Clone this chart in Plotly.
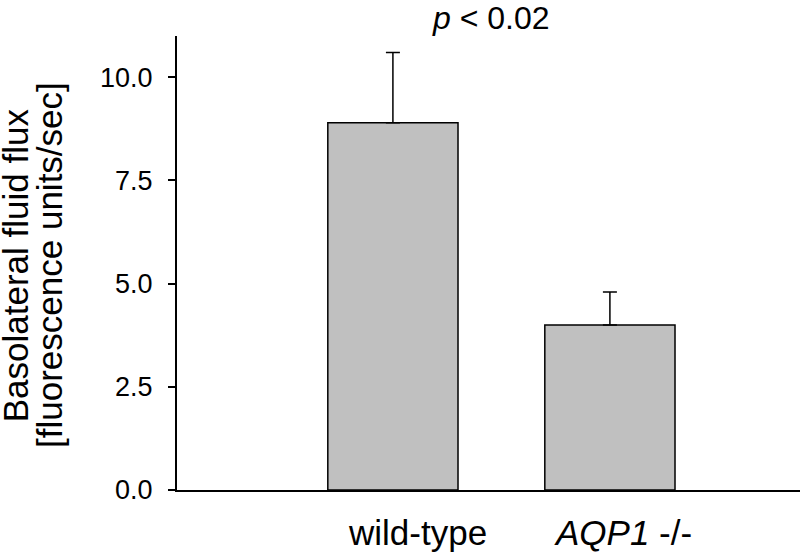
import plotly.graph_objects as go

categories = ["wild-type", "AQP1 -/-"]
category_labels = ["wild-type", "<i>AQP1</i> -/-"]
flux_means = [8.9, 4.0]
flux_err_up = [1.7, 0.8]
y_ticks = [0, 2.5, 5.0, 7.5, 10.0]
y_tick_labels = ["0.0", "2.5", "5.0", "7.5", "10.0"]
y_title_lines = ["Basolateral fluid flux", "[fluorescence units/sec]"]
p_label = "<i>p</i> < 0.02"

FONT = "Arial, Liberation Sans, Helvetica, sans-serif"

fig = go.Figure()
fig.add_trace(go.Bar(
    x=categories,
    y=flux_means,
    width=0.6,
    marker=dict(color="#c0c0c0", line=dict(color="black", width=1.5)),
    error_y=dict(type="data", symmetric=False, array=flux_err_up,
                 arrayminus=[0, 0], color="black", thickness=1.5, width=7),
    showlegend=False,
))

# x category labels (offset slightly right as in the reference)
for cat, lab, shift in zip(categories, category_labels, [25, 13]):
    fig.add_annotation(
        x=cat, y=-0.0947, xref="x", yref="paper", xshift=shift,
        text=lab, showarrow=False, yanchor="middle", borderpad=0,
        font=dict(family=FONT, size=35, color="black"),
    )

# y-axis title as two tightly spaced rotated lines
for line, px in zip(y_title_lines, [-0.2580, -0.2039]):
    fig.add_annotation(
        x=px, y=0.4956, xref="paper", yref="paper",
        text=line, showarrow=False, textangle=-90, borderpad=0,
        xanchor="center", yanchor="middle",
        font=dict(family=FONT, size=35, color="black"),
    )

fig.add_annotation(
    x=0.45, y=1.040, xref="x", yref="paper",
    text=p_label, showarrow=False, yanchor="middle", borderpad=0,
    font=dict(family=FONT, size=32, color="black"),
)

fig.update_layout(
    width=804, height=552,
    margin=dict(l=177, r=4, t=36, b=62),
    paper_bgcolor="white", plot_bgcolor="white",
    font=dict(family=FONT, color="black"),
)
fig.update_xaxes(
    range=[-0.995, 1.876], automargin=False,
    showline=True, linecolor="black", linewidth=2,
    ticks="", showgrid=False, zeroline=False,
    showticklabels=False,
)
fig.update_yaxes(
    range=[0, 11], automargin=False,
    tickvals=y_ticks, ticktext=y_tick_labels,
    showline=True, linecolor="black", linewidth=2,
    ticks="outside", ticklen=7, tickwidth=2, tickcolor="black",
    showgrid=False, zeroline=False,
    tickfont=dict(family=FONT, size=27, color="black"),
    ticklabelstandoff=10,
)

# remove the browser's default 8px page margin so the figure fills the window
fig.write_html("out.html", config={"displayModeBar": False},
               post_script="document.body.style.margin='0';")
